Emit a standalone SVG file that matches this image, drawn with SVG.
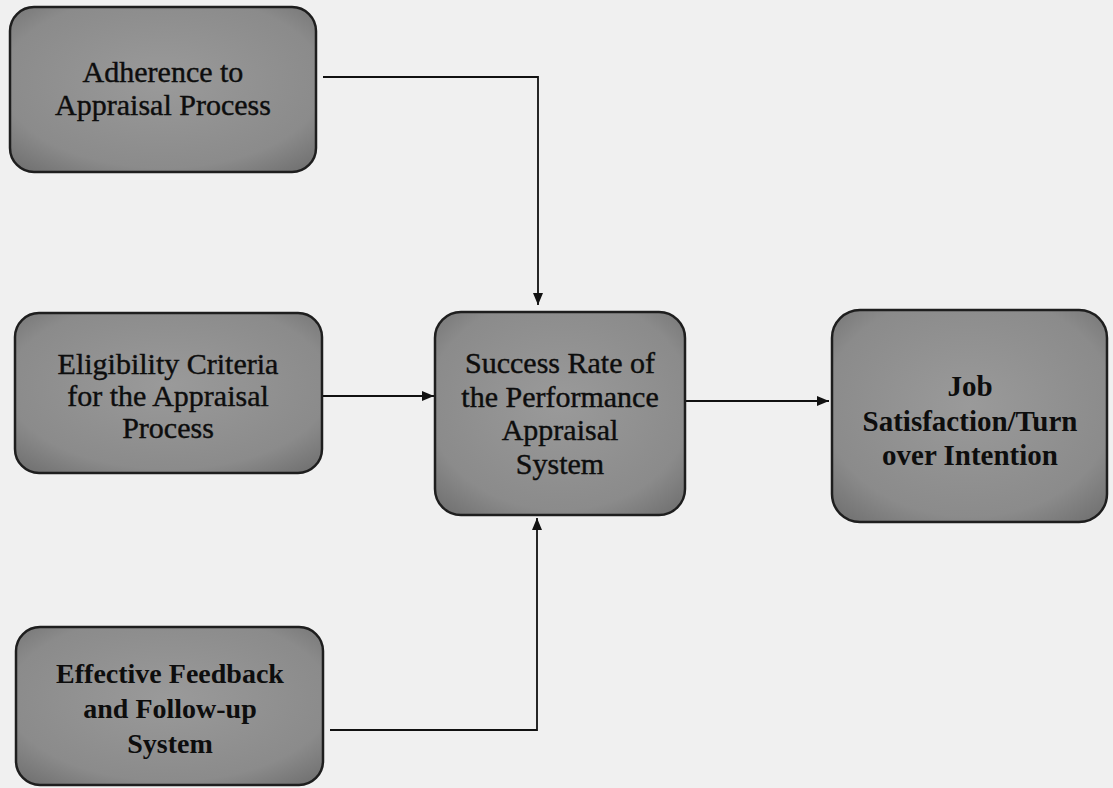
<svg xmlns="http://www.w3.org/2000/svg" width="1113" height="788" viewBox="0 0 1113 788">
<defs>
<radialGradient id="g" cx="50%" cy="45%" r="70%">
<stop offset="0" stop-color="#9a9a9a"/>
<stop offset="0.75" stop-color="#8b8b8b"/>
<stop offset="1" stop-color="#727272"/>
</radialGradient>
<marker id="ah" viewBox="0 0 12 10" refX="12" refY="5" markerWidth="13" markerHeight="10" markerUnits="userSpaceOnUse" orient="auto">
<path d="M0,0 L12,5 L0,10 z" fill="#111"/>
</marker>
<style>
.box{fill:url(#g);stroke:#1e1e1e;stroke-width:2.5}
.t{font-family:"Liberation Serif","Times New Roman",serif;font-size:30px;fill:#0d0d0d;stroke:#0d0d0d;stroke-width:0.4;text-anchor:middle}
.b{font-weight:bold;font-size:29px;stroke-width:0}
.s{font-size:28px}
.c{fill:none;stroke:#111;stroke-width:1.8}
</style>
</defs>
<rect width="1113" height="788" fill="#f0f0f0"/>
<g id="connectors">
<path class="c" d="M323,77 H538 V305" marker-end="url(#ah)"/>
<path class="c" d="M323,396 H434" marker-end="url(#ah)"/>
<path class="c" d="M686,401 H829" marker-end="url(#ah)"/>
<path class="c" d="M330,730 H537 V518" marker-end="url(#ah)"/>
</g>
<g id="n1">
<rect class="box" x="10" y="7" width="306" height="165" rx="24"/>
<text class="t" x="163" y="82">Adherence to</text>
<text class="t" x="163" y="115">Appraisal Process</text>
</g>
<g id="n2">
<rect class="box" x="15" y="313" width="307" height="160" rx="24"/>
<text class="t" x="168" y="374">Eligibility Criteria</text>
<text class="t" x="168" y="406">for the Appraisal</text>
<text class="t" x="168" y="438">Process</text>
</g>
<g id="n3">
<rect class="box" x="435" y="312" width="250" height="203" rx="26"/>
<text class="t" x="560" y="373">Success Rate of</text>
<text class="t" x="560" y="407">the Performance</text>
<text class="t" x="560" y="440">Appraisal</text>
<text class="t" x="560" y="474">System</text>
</g>
<g id="n4">
<rect class="box" x="832" y="310" width="275" height="212" rx="28"/>
<text class="t b" x="970" y="396">Job</text>
<text class="t b" x="970" y="431">Satisfaction/Turn</text>
<text class="t b" x="970" y="465">over Intention</text>
</g>
<g id="n5">
<rect class="box" x="16" y="627" width="307" height="158" rx="24"/>
<text class="t b s" x="170" y="683">Effective Feedback</text>
<text class="t b s" x="170" y="718">and Follow-up</text>
<text class="t b s" x="170" y="753">System</text>
</g>
</svg>
